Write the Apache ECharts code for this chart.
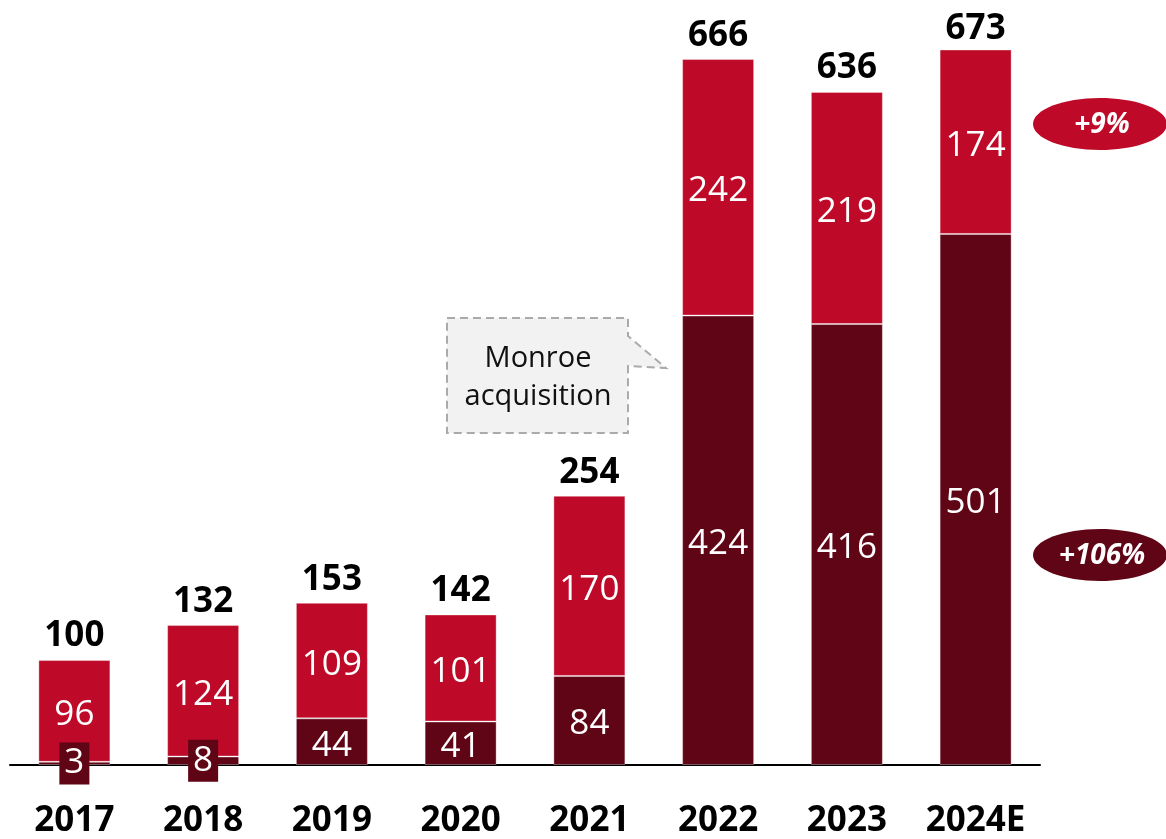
<!DOCTYPE html>
<html>
<head>
<meta charset="utf-8">
<script src="https://cdn.jsdelivr.net/npm/echarts@6/dist/echarts.min.js"></script>
<style>
  html, body { margin: 0; padding: 0; background: #fff; }
  #main { width: 1166px; height: 839px; }
</style>
</head>
<body>
<div id="main"></div>
<script>
var years = ['2017', '2018', '2019', '2020', '2021', '2022', '2023', '2024E'];
var bottomVals = [3, 8, 44, 41, 84, 424, 416, 501];
var topVals = [96, 124, 109, 101, 170, 242, 219, 174];
var totals = [100, 132, 153, 142, 254, 666, 636, 673];

var lightRed = '#BE0A28';
var darkRed = '#600515';
var font = '"Open Sans", sans-serif';

// small values get a boxed label sitting over the axis
var bottomData = bottomVals.map(function (v) {
    if (v < 20) {
        return {
            value: v,
            label: {
                backgroundColor: darkRed,
                padding: [3, 5],
                lineHeight: 36,
                offset: [0, 0]
            }
        };
    }
    return v;
});

var innerLabel = {
    show: true, position: 'inside', color: '#fff', fontFamily: font,
    fontSize: 35, offset: [0, 4]
};

var chart = echarts.init(document.getElementById('main'));
chart.setOption({
    animation: false,
    grid: { left: 10, right: 126, top: 23, bottom: 74, outerBoundsMode: 'none' },
    xAxis: {
        type: 'category',
        data: years,
        axisLine: { lineStyle: { color: '#000', width: 2 } },
        axisTick: { show: false },
        axisLabel: {
            interval: 0,
            color: '#000', fontFamily: font, fontWeight: 'bold',
            fontSize: 35, lineHeight: 36, margin: 38
        }
    },
    yAxis: { type: 'value', min: 0, max: 700, show: false },
    series: [
        {
            type: 'bar', stack: 'a', barWidth: 72, data: bottomData,
            itemStyle: { color: darkRed, borderColor: 'rgba(255,255,255,0.35)', borderWidth: 1 },
            label: innerLabel
        },
        {
            type: 'bar', stack: 'a', barWidth: 72, data: topVals,
            itemStyle: { color: lightRed, borderColor: 'rgba(255,255,255,0.35)', borderWidth: 1 },
            label: innerLabel
        },
        {
            type: 'bar', barWidth: 72, barGap: '-100%', data: totals, z: 1,
            itemStyle: { color: 'rgba(0,0,0,0)' },
            label: {
                show: true, position: 'top', distance: 5, color: '#000',
                fontFamily: font, fontWeight: 'bold', fontSize: 35, lineHeight: 36
            }
        }
    ],
    graphic: [
        {
            type: 'polygon',
            shape: { points: [[447, 318], [628, 318], [628, 336], [666, 368], [628, 366], [628, 433], [447, 433]] },
            style: { fill: '#f2f2f2', stroke: '#aaa', lineWidth: 2, lineDash: [8, 5] }
        },
        {
            type: 'text', x: 538, y: 378,
            style: {
                text: 'Monroe\nacquisition', fill: '#111', font: '29px ' + font,
                align: 'center', verticalAlign: 'middle', lineHeight: 38
            }
        },
        {
            type: 'ellipse', shape: { cx: 1100, cy: 124, rx: 67, ry: 26 },
            style: { fill: lightRed }
        },
        {
            type: 'text', x: 1102, y: 125,
            style: { text: '+9%', fill: '#fff', font: 'italic bold 28px ' + font, align: 'center', verticalAlign: 'middle' }
        },
        {
            type: 'ellipse', shape: { cx: 1100, cy: 555, rx: 67, ry: 26 },
            style: { fill: darkRed }
        },
        {
            type: 'text', x: 1102, y: 556,
            style: { text: '+106%', fill: '#fff', font: 'italic bold 28px ' + font, align: 'center', verticalAlign: 'middle' }
        }
    ]
});
</script>
</body>
</html>
